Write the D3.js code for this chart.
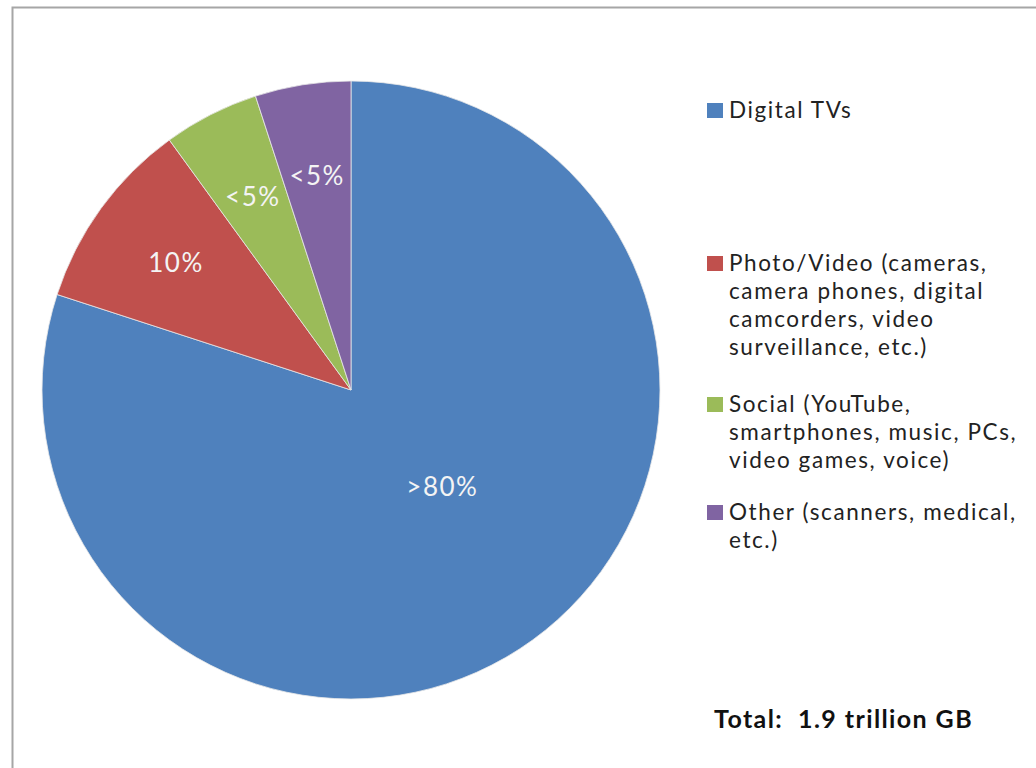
<!DOCTYPE html>
<meta charset="utf-8">
<script src="https://d3js.org/d3.v7.min.js"></script>
<style>
  body { margin: 0; background: #fff; }
  text { font-family: Lato, "Open Sans", sans-serif; }
</style>
<div id="my_dataviz"></div>
<script>
// data
const categories = ["Digital TVs", "Photo/Video", "Social", "Other"];
const shares = [80, 10, 5, 5];
const sliceLabels = [">80%", "10%", "<5%", "<5%"];
const legendLines = [
  ["Digital TVs"],
  ["Photo/Video (cameras,", "camera phones, digital", "camcorders, video", "surveillance, etc.)"],
  ["Social (YouTube,", "smartphones, music, PCs,", "video games, voice)"],
  ["Other (scanners, medical,", "etc.)"]
];
const totalText = "Total:  1.9 trillion GB";
const colors = ["#4f81bd", "#c0504d", "#9bbb59", "#8064a2"];

const width = 1036, height = 768;
const cx = 351, cy = 390, radius = 309;

const svg = d3.select("#my_dataviz")
  .append("svg")
    .attr("width", width)
    .attr("height", height);

// chart frame
svg.append("rect")
  .attr("x", 12.5).attr("y", 7.5)
  .attr("width", width).attr("height", height)
  .attr("fill", "none")
  .attr("stroke", "#a6a6a6")
  .attr("stroke-width", 2);

const color = d3.scaleOrdinal().domain(categories).range(colors);

const pie = d3.pie().sort(null).value(d => d);
const arcs = pie(shares);
const arc = d3.arc().innerRadius(0).outerRadius(radius);

const g = svg.append("g").attr("transform", `translate(${cx}, ${cy})`);

g.selectAll("path")
  .data(arcs)
  .join("path")
    .attr("d", arc)
    .attr("fill", (d, i) => color(categories[i]))
    .attr("stroke", "#e8e8e8")
    .attr("stroke-width", 0.8);

// data labels (big slice label sits closer to the centre)
g.selectAll("text.lbl")
  .data(arcs)
  .join("text")
    .attr("class", "lbl")
    .attr("transform", (d, i) => {
      const r = i === 0 ? 0.43 * radius : 0.70 * radius;
      const a = i === 0 ? (d.startAngle + d.endAngle) / 2 - 0.13 : (d.startAngle + d.endAngle) / 2;
      return `translate(${r * Math.sin(a)}, ${-r * Math.cos(a)})`;
    })
    .attr("text-anchor", "middle")
    .attr("dy", "0.35em")
    .attr("fill", "#f4f4f4")
    .style("font-size", "26px")
    .style("letter-spacing", "1.5px")
    .text((d, i) => sliceLabels[i]);

// legend
const legendTop = [110, 263, 404, 512];
const lineH = 28;
const legend = svg.append("g");
legendLines.forEach((lines, i) => {
  legend.append("rect")
    .attr("x", 707).attr("y", legendTop[i] - 7)
    .attr("width", 16).attr("height", 15)
    .attr("fill", colors[i]);
  lines.forEach((t, j) => {
    legend.append("text")
      .attr("x", 729)
      .attr("y", legendTop[i] + j * lineH)
      .attr("dy", "0.35em")
      .attr("fill", "#222")
      .style("font-size", "22.5px")
      .style("letter-spacing", "1.6px")
      .text(t);
  });
});

svg.append("text")
  .attr("x", 714).attr("y", 719)
  .attr("dy", "0.35em")
  .attr("fill", "#111")
  .style("font-size", "25px")
  .style("font-weight", "bold")
  .style("letter-spacing", "1.4px")
  .style("white-space", "pre")
  .text(totalText);
</script>
